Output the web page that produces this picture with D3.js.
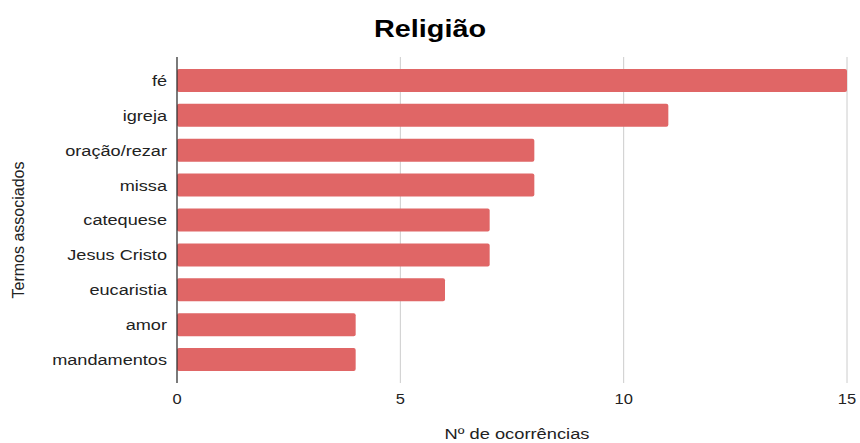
<!DOCTYPE html>
<html>
<head>
<meta charset="utf-8">
<script src="https://cdn.jsdelivr.net/npm/d3@7"></script>
<style>
  body { margin: 0; background: #fff; }
  svg { display: block; font-family: "Liberation Sans", Arial, sans-serif; }
</style>
</head>
<body>
<div id="chart"></div>
<script>
const terms = ['fé', 'igreja', 'oração/rezar', 'missa', 'catequese', 'Jesus Cristo', 'eucaristia', 'amor', 'mandamentos'];
const counts = [15, 11, 8, 8, 7, 7, 6, 4, 4];
const xTicks = [0, 5, 10, 15];

const W = 860, H = 443;
const plotL = 177, plotR = 847, plotT = 57, plotB = 383;
const stretch = 1.17; // the reference text looks horizontally widened

const svg = d3.select('#chart').append('svg').attr('width', W).attr('height', H);

const x = d3.scaleLinear().domain([0, 15]).range([plotL, plotR]);
const y = d3.scaleBand().domain(terms).range([63, 377]).paddingInner(0.34).paddingOuter(0.17);

// text placed at (tx, ty) then widened
function wideText(tx, ty, sx) {
  return `translate(${tx},${ty}) scale(${sx},1)`;
}

// gridlines
svg.append('g')
  .selectAll('line')
  .data(xTicks.filter(d => d > 0))
  .join('line')
  .attr('x1', d => x(d)).attr('x2', d => x(d))
  .attr('y1', plotT).attr('y2', plotB)
  .attr('stroke', '#cccccc').attr('stroke-width', 1);

// bars
svg.append('g')
  .selectAll('rect')
  .data(terms.map((t, i) => ({ t, v: counts[i] })))
  .join('rect')
  .attr('x', x(0))
  .attr('y', d => y(d.t))
  .attr('width', d => x(d.v) - x(0))
  .attr('height', y.bandwidth())
  .attr('rx', 2)
  .attr('fill', '#e06666');

// y axis line
svg.append('line')
  .attr('x1', plotL).attr('x2', plotL)
  .attr('y1', plotT).attr('y2', plotB)
  .attr('stroke', '#333').attr('stroke-width', 1.3);

// y labels
svg.append('g')
  .selectAll('text')
  .data(terms)
  .join('text')
  .attr('transform', d => wideText(plotL - 10, y(d) + y.bandwidth() / 2, stretch))
  .attr('dy', '0.35em')
  .attr('text-anchor', 'end')
  .attr('font-size', '15.5px')
  .attr('fill', '#222')
  .text(d => d);

// x tick labels
svg.append('g')
  .selectAll('text')
  .data(xTicks)
  .join('text')
  .attr('transform', d => wideText(x(d), 404, 1.1))
  .attr('text-anchor', 'middle')
  .attr('font-size', '15px')
  .attr('fill', '#222')
  .text(d => d);

// title
svg.append('text')
  .attr('transform', wideText(430, 37, 1.2))
  .attr('text-anchor', 'middle')
  .attr('font-size', '24px')
  .attr('font-weight', 'bold')
  .attr('fill', '#000')
  .text('Religião');

// axis titles
svg.append('text')
  .attr('transform', wideText(517, 439, 1.22))
  .attr('text-anchor', 'middle')
  .attr('font-size', '15px')
  .attr('fill', '#222')
  .text('Nº de ocorrências');

svg.append('text')
  .attr('transform', 'translate(24,230) rotate(-90)')
  .attr('text-anchor', 'middle')
  .attr('font-size', '16px')
  .attr('fill', '#222')
  .text('Termos associados');
</script>
</body>
</html>
